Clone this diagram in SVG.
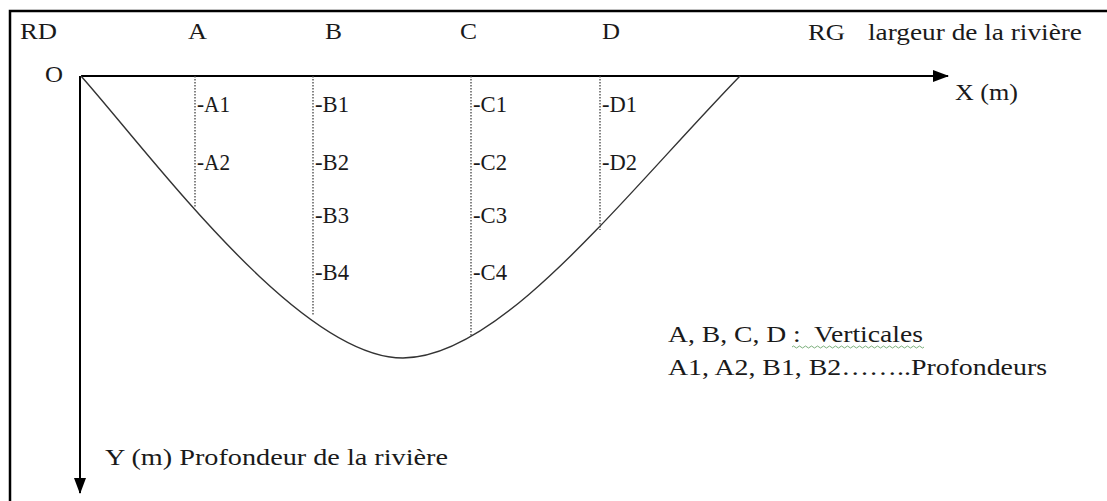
<svg xmlns="http://www.w3.org/2000/svg" width="1107" height="501" viewBox="0 0 1107 501">
<style>
.t{font-family:'Liberation Serif','DejaVu Serif',serif;font-size:23px;fill:#1a1a1a}
.axis{stroke:#000;stroke-width:2;fill:none}
.vert{stroke:#444;stroke-width:1.3;stroke-dasharray:1.5,1.5;fill:none}
.curve{stroke:#333;stroke-width:1.4;fill:none}
</style>
<defs>
<marker id="ah" markerWidth="16" markerHeight="12" refX="15" refY="6" orient="auto" markerUnits="userSpaceOnUse">
<path d="M0,0 L16,6 L0,12 Z" fill="#000"/>
</marker>
</defs>
<rect x="10" y="11" width="1200" height="600" fill="#fff" stroke="#000" stroke-width="2.5"/>
<g id="connectors">
<line class="axis" x1="81" y1="76" x2="948" y2="76" marker-end="url(#ah)"/>
<line class="axis" x1="80" y1="76" x2="80" y2="493" marker-end="url(#ah)"/>
<path class="curve" d="M81,76 C155,160 300,358 403,358 C500,358 620,200 740,76"/>
<line class="vert" x1="195" y1="76" x2="195" y2="207"/>
<line class="vert" x1="313" y1="76" x2="313" y2="315"/>
<line class="vert" x1="471" y1="76" x2="471" y2="337"/>
<line class="vert" x1="600" y1="76" x2="600" y2="230"/>
</g>
<g class="t" font-family="Liberation Serif, DejaVu Serif, serif">
<g id="top-labels">
<text x="20" y="39" textLength="37" lengthAdjust="spacingAndGlyphs">RD</text>
<text x="188" y="39" textLength="19" lengthAdjust="spacingAndGlyphs">A</text>
<text x="325" y="39" textLength="17" lengthAdjust="spacingAndGlyphs">B</text>
<text x="460" y="39" textLength="17" lengthAdjust="spacingAndGlyphs">C</text>
<text x="602" y="39" textLength="18" lengthAdjust="spacingAndGlyphs">D</text>
<text x="808" y="40" textLength="37" lengthAdjust="spacingAndGlyphs">RG</text>
<text x="868" y="40" textLength="214" lengthAdjust="spacingAndGlyphs">largeur de la rivière</text>
<text x="45" y="82" textLength="18" lengthAdjust="spacingAndGlyphs">O</text>
<text x="955" y="100" textLength="63" lengthAdjust="spacingAndGlyphs">X (m)</text>
</g>
<g id="vertical-A">
<text x="197" y="112" textLength="33" lengthAdjust="spacingAndGlyphs">-A1</text>
<text x="197" y="170" textLength="33" lengthAdjust="spacingAndGlyphs">-A2</text>
</g>
<g id="vertical-B">
<text x="315" y="112" textLength="34" lengthAdjust="spacingAndGlyphs">-B1</text>
<text x="315" y="170" textLength="34" lengthAdjust="spacingAndGlyphs">-B2</text>
<text x="315" y="223" textLength="34" lengthAdjust="spacingAndGlyphs">-B3</text>
<text x="315" y="280" textLength="34" lengthAdjust="spacingAndGlyphs">-B4</text>
</g>
<g id="vertical-C">
<text x="473" y="112" textLength="34" lengthAdjust="spacingAndGlyphs">-C1</text>
<text x="473" y="170" textLength="34" lengthAdjust="spacingAndGlyphs">-C2</text>
<text x="473" y="223" textLength="34" lengthAdjust="spacingAndGlyphs">-C3</text>
<text x="473" y="280" textLength="34" lengthAdjust="spacingAndGlyphs">-C4</text>
</g>
<g id="vertical-D">
<text x="602" y="112" textLength="35" lengthAdjust="spacingAndGlyphs">-D1</text>
<text x="602" y="170" textLength="35" lengthAdjust="spacingAndGlyphs">-D2</text>
</g>
<g id="legend">
<text x="668" y="342" textLength="255" lengthAdjust="spacingAndGlyphs" xml:space="preserve">A, B, C, D :  Verticales</text>
<text x="668" y="375" textLength="379" lengthAdjust="spacingAndGlyphs">A1, A2, B1, B2……..Profondeurs</text>
</g>
<g id="y-label">
<text x="105" y="465" textLength="343" lengthAdjust="spacingAndGlyphs">Y (m) Profondeur de la rivière</text>
</g>
</g>
<path d="M792,347 q1.5,-2 3,0 t3,0 t3,0 t3,0 t3,0 t3,0 t3,0 t3,0 t3,0 t3,0 t3,0 t3,0 t3,0 t3,0 t3,0 t3,0 t3,0 t3,0 t3,0 t3,0 t3,0 t3,0 t3,0 t3,0 t3,0 t3,0 t3,0 t3,0 t3,0 t3,0 t3,0 t3,0 t3,0 t3,0 t3,0 t3,0 t3,0 t3,0 t3,0 t3,0 t3,0 t3,0 t3,0 t3,0" stroke="#5a9a5a" stroke-width="0.8" fill="none"/>
</svg>
